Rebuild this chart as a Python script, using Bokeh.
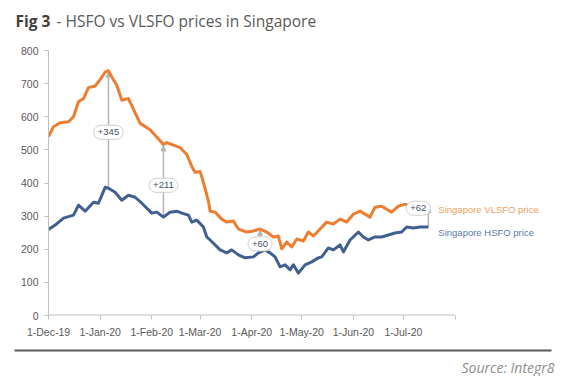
import numpy as np
import pandas as pd
from bokeh.plotting import figure
from bokeh.layouts import column
from bokeh.models import (FixedTicker, Label, Arrow, NormalHead, Range1d)
from bokeh.embed import file_html
from bokeh.resources import INLINE

# ---------------- data ----------------
vlsfo_dates = ["2019-12-01", "2019-12-04", "2019-12-08", "2019-12-13", "2019-12-16", "2019-12-19",
               "2019-12-22", "2019-12-25", "2019-12-29", "2020-01-01", "2020-01-04", "2020-01-06",
               "2020-01-08", "2020-01-11", "2020-01-14", "2020-01-18", "2020-01-25", "2020-01-31",
               "2020-02-08", "2020-02-10", "2020-02-18", "2020-02-22", "2020-02-25", "2020-02-27",
               "2020-03-01", "2020-03-03", "2020-03-06", "2020-03-07", "2020-03-10", "2020-03-14",
               "2020-03-17", "2020-03-21", "2020-03-24", "2020-03-29", "2020-04-02", "2020-04-06",
               "2020-04-10", "2020-04-14", "2020-04-17", "2020-04-19", "2020-04-22", "2020-04-25",
               "2020-04-28", "2020-05-02", "2020-05-05", "2020-05-08", "2020-05-12", "2020-05-16",
               "2020-05-20", "2020-05-24", "2020-05-28", "2020-06-01", "2020-06-05", "2020-06-08",
               "2020-06-11", "2020-06-14", "2020-06-18", "2020-06-21", "2020-06-24", "2020-06-28",
               "2020-07-02", "2020-07-06", "2020-07-10", "2020-07-14", "2020-07-16"]
vlsfo_values = [540, 570, 582, 585, 600, 645,
                655, 688, 693, 712, 735, 739,
                720, 695, 650, 655, 580, 561,
                516, 522, 507, 486, 450, 432,
                435, 402, 345, 315, 312, 291,
                282, 285, 261, 252, 255, 261,
                252, 237, 240, 201, 222, 207,
                231, 225, 252, 240, 261, 282,
                276, 291, 282, 306, 315, 306,
                297, 327, 330, 321, 312, 330,
                336, 330, 336, 336, 330]

hsfo_dates = ["2019-12-01", "2019-12-05", "2019-12-10", "2019-12-16", "2019-12-19", "2019-12-23",
              "2019-12-28", "2019-12-31", "2020-01-04", "2020-01-06", "2020-01-10", "2020-01-14",
              "2020-01-18", "2020-01-22", "2020-01-26", "2020-02-01", "2020-02-04", "2020-02-08",
              "2020-02-12", "2020-02-16", "2020-02-19", "2020-02-23", "2020-02-25", "2020-02-28",
              "2020-03-03", "2020-03-05", "2020-03-07", "2020-03-13", "2020-03-17", "2020-03-20",
              "2020-03-24", "2020-03-28", "2020-04-02", "2020-04-05", "2020-04-09", "2020-04-12",
              "2020-04-15", "2020-04-18", "2020-04-21", "2020-04-24", "2020-04-26", "2020-04-29",
              "2020-05-03", "2020-05-07", "2020-05-11", "2020-05-13", "2020-05-17", "2020-05-20",
              "2020-05-24", "2020-05-26", "2020-05-30", "2020-06-04", "2020-06-07", "2020-06-10",
              "2020-06-14", "2020-06-18", "2020-06-22", "2020-06-26", "2020-06-30", "2020-07-03",
              "2020-07-07", "2020-07-11", "2020-07-16"]
hsfo_values = [260, 273, 294, 303, 333, 315,
               342, 339, 387, 384, 372, 348,
               363, 357, 339, 309, 312, 297,
               312, 315, 309, 303, 282, 288,
               267, 237, 228, 198, 189, 198,
               183, 174, 177, 189, 198, 189,
               177, 147, 153, 138, 153, 128,
               153, 162, 174, 177, 204, 198,
               213, 192, 228, 252, 237, 228,
               237, 237, 243, 249, 252, 267,
               264, 267, 267]

month_ticks = ["2019-12-01", "2020-01-01", "2020-02-01", "2020-03-01", "2020-04-01",
               "2020-05-01", "2020-06-01", "2020-07-01", "2020-08-01"]
month_labels = ["1-Dec-19", "1-Jan-20", "1-Feb-20", "1-Mar-20", "1-Apr-20",
                "1-May-20", "1-Jun-20", "1-Jul-20", ""]
y_ticks = [0, 100, 200, 300, 400, 500, 600, 700, 800]

spread_dates = ["2020-01-06", "2020-02-08", "2020-04-06", "2020-07-16"]
spread_texts = ["+345", "+211", "+60", "+62"]
spread_label_dates = ["2020-01-06", "2020-02-08", "2020-04-06", "2020-07-10"]
spread_label_values = [553, 393, 216, 324]

series_names = ["Singapore VLSFO price", "Singapore HSFO price"]
title_bold = "Fig 3"
title_rest = "- HSFO vs VLSFO prices in Singapore"
source_text = "Source: Integr8"

# ---------------- helpers ----------------
def to_ms(d):
    return pd.to_datetime(pd.Series(d)).values.astype("datetime64[ms]").astype("int64").astype(float)

ORANGE = "#ED7D31"
BLUE = "#41608F"
TXT = "#595959"
W = 556

vx = to_ms(vlsfo_dates)
hx = to_ms(hsfo_dates)
tick_ms = to_ms(month_ticks)

# ---------------- title strip ----------------
TH = 38
t = figure(width=W, height=TH, output_backend="svg", toolbar_location=None,
           x_range=Range1d(0, W), y_range=Range1d(TH, 0), min_border=0,
           x_axis_location=None, y_axis_location=None, frame_align=False)
t.outline_line_color = None
t.grid.visible = False
t.add_layout(Label(x=15, y=20, text=title_bold, text_baseline="middle", text_font="Open Sans",
                   text_font_style="bold", text_font_size="15.5px", text_color="#404040"))
t.add_layout(Label(x=56, y=20, text=title_rest, text_baseline="middle", text_font="Open Sans",
                   text_font_size="15.5px", text_color=TXT))

# ---------------- main chart ----------------
LEFT, RIGHT = 48, 2
frame_w = W - LEFT - RIGHT
day_ms = 86400000.0
px_per_day = 406.5 / ((tick_ms[-1] - tick_ms[0]) / day_ms)
x_end = tick_ms[0] + frame_w / px_per_day * day_ms

p = figure(width=W, height=302, output_backend="svg", toolbar_location=None,
           x_axis_type="datetime", frame_align=False,
           x_range=Range1d(tick_ms[0], x_end), y_range=Range1d(0, 800),
           min_border_left=LEFT, min_border_right=RIGHT, min_border_top=12, min_border_bottom=24)
p.outline_line_color = None
p.xgrid.visible = False
p.ygrid.visible = False

# x axis baseline only up to the last month tick
p.segment(x0=[tick_ms[0]], y0=[0], x1=[tick_ms[-1]], y1=[0], line_color="#BFBFBF", line_width=2)

# spread arrows (behind the lines)
for d in spread_dates:
    xm = to_ms([d])[0]
    y0 = float(np.interp(xm, hx, hsfo_values))
    y1 = float(np.interp(xm, vx, vlsfo_values))
    p.add_layout(Arrow(x_start=xm, y_start=y0, x_end=xm, y_end=y1 - 4,
                       line_color="#B4B4B4", line_width=1.5, level="underlay",
                       end=NormalHead(size=5, fill_color="#B4B4B4", line_color="#B4B4B4")))

p.line(vx, vlsfo_values, line_color=ORANGE, line_width=3, line_join="round")
p.line(hx, hsfo_values, line_color=BLUE, line_width=3, line_join="round")

for txt, ld, lv in zip(spread_texts, spread_label_dates, spread_label_values):
    p.add_layout(Label(x=to_ms([ld])[0], y=lv, text=txt, text_align="center", text_baseline="middle",
                       text_font="Liberation Sans", text_font_size="9.5px", text_color="#44546A",
                       background_fill_color="white", border_line_color="#D0D0D0",
                       padding=4, border_radius=9))

# axes
p.xaxis.ticker = FixedTicker(ticks=list(tick_ms))
p.xaxis.major_label_overrides = {float(v): lab for v, lab in zip(tick_ms, month_labels)}
p.yaxis.ticker = FixedTicker(ticks=y_ticks)
for ax in (p.xaxis[0], p.yaxis[0]):
    ax.axis_line_color = "#BFBFBF"
    ax.axis_line_width = 1
    ax.major_tick_line_color = "#BFBFBF"
    ax.major_tick_in = 0
    ax.major_tick_out = 4
    ax.minor_tick_line_color = None
    ax.major_label_text_color = TXT
    ax.major_label_text_font = "Liberation Sans"
    ax.major_label_text_font_size = "10.5px"
p.xaxis.axis_line_color = None
p.xaxis.major_label_standoff = 6
p.yaxis.major_label_standoff = 6

# series labels
p.add_layout(Label(x=vx[-1], y=vlsfo_values[-1], x_offset=10, y_offset=-3, text=series_names[0],
                   text_baseline="middle", text_font="Liberation Sans", text_font_size="9.5px",
                   text_color="#F0A060"))
p.add_layout(Label(x=hx[-1], y=hsfo_values[-1], x_offset=10, y_offset=-5, text=series_names[1],
                   text_baseline="middle", text_font="Liberation Sans", text_font_size="9.5px",
                   text_color="#5A7AA8"))

# ---------------- footer strip ----------------
FH = 36
f = figure(width=W, height=FH, output_backend="svg", toolbar_location=None,
           x_range=Range1d(0, W), y_range=Range1d(FH, 0), min_border=0,
           x_axis_location=None, y_axis_location=None, frame_align=False)
f.outline_line_color = None
f.grid.visible = False
f.segment(x0=[14], y0=[10], x1=[551], y1=[10], line_color="#595959", line_width=2)
f.add_layout(Label(x=554, y=27, text=source_text, text_align="right", text_baseline="middle",
                   text_font="Open Sans", text_font_style="italic", text_font_size="14px",
                   text_color="#8C8C8C"))

layout = column(t, p, f, spacing=0)
open("out.html", "w").write(file_html(layout, INLINE))
